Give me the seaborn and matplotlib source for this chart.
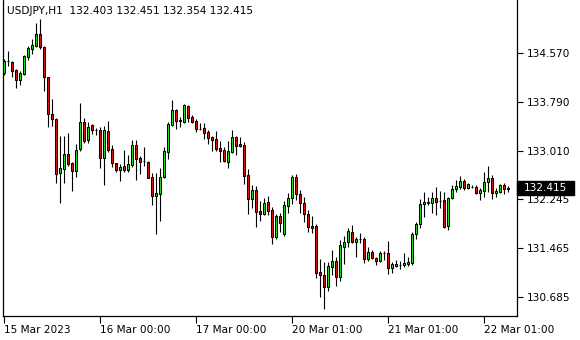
import matplotlib
matplotlib.use("Agg")
import matplotlib.pyplot as plt
import matplotlib.transforms as mtransforms
from matplotlib.patches import Rectangle
import seaborn as sns
import numpy as np
import pandas as pd

symbol = "USDJPY,H1"
x_labels = ["15 Mar 2023", "16 Mar 00:00", "17 Mar 00:00", "20 Mar 01:00", "21 Mar 01:00", "22 Mar 01:00"]
x_label_bars = [0, 24, 48, 72, 96, 120]
y_ticks = [134.570, 133.790, 133.010, 132.245, 131.465, 130.685]
last_price = 132.415

opens = [134.242, 134.433, 134.417, 134.295, 134.135, 134.231, 134.506, 134.634, 134.677, 134.863,
         134.656, 134.188, 133.599, 133.519, 132.650, 132.714, 132.953, 132.809, 132.691, 133.032,
         133.462, 133.180, 133.414, 133.339, 133.339, 132.894, 133.323, 133.032, 132.809, 132.703,
         132.762, 132.703, 132.782, 133.101, 132.894, 132.846, 132.835, 132.586, 132.293, 132.320,
         132.596, 132.994, 133.419, 133.658, 133.487, 133.472, 133.721, 133.542, 133.483, 133.355,
         133.366, 133.303, 133.223, 133.191, 133.048, 133.021, 132.835, 132.994, 133.223, 133.117,
         133.101, 132.618, 132.241, 132.384, 132.050, 131.997, 132.188, 132.066, 131.631, 131.970,
         131.679, 132.134, 132.252, 132.586, 132.316, 132.172, 131.997, 131.811, 131.811, 131.074,
         131.031, 130.845, 131.163, 131.254, 131.004, 131.482, 131.552, 131.720, 131.561, 131.599,
         131.604, 131.281, 131.392, 131.306, 131.259, 131.376, 131.376, 131.138, 131.179, 131.190,
         131.185, 131.206, 131.217, 131.684, 131.843, 132.161, 132.172, 132.182, 132.252, 132.214,
         132.225, 131.816, 132.252, 132.395, 132.437, 132.527, 132.411, 132.427, 132.427, 132.332,
         132.373, 132.507, 132.570, 132.332, 132.357, 132.464, 132.403]
highs = [134.470, 134.597, 134.438, 134.315, 134.283, 134.538, 134.677, 134.793, 135.038, 135.102,
         134.677, 134.190, 133.828, 133.535, 133.244, 133.244, 133.287, 132.835, 133.112, 133.764,
         133.526, 133.472, 133.435, 133.366, 133.382, 133.403, 133.483, 133.101, 132.819, 132.798,
         133.021, 132.941, 133.180, 133.180, 132.930, 133.074, 132.851, 132.660, 132.650, 132.739,
         133.074, 133.472, 133.817, 133.674, 133.551, 133.753, 133.737, 133.578, 133.510, 133.446,
         133.456, 133.339, 133.244, 133.323, 133.164, 133.064, 133.169, 133.339, 133.249, 133.233,
         133.144, 132.718, 132.464, 132.448, 132.209, 132.252, 132.289, 132.109, 131.997, 132.023,
         132.209, 132.341, 132.623, 132.639, 132.384, 132.278, 132.066, 131.970, 131.843, 131.286,
         131.233, 131.233, 131.429, 131.313, 131.588, 131.652, 131.774, 131.827, 131.631, 131.704,
         131.631, 131.482, 131.429, 131.322, 131.413, 131.413, 131.577, 131.233, 131.270, 131.259,
         131.376, 131.313, 131.711, 131.879, 132.236, 132.357, 132.278, 132.348, 132.427, 132.373,
         132.357, 132.268, 132.464, 132.543, 132.607, 132.559, 132.491, 132.464, 132.464, 132.411,
         132.676, 132.766, 132.623, 132.411, 132.480, 132.491, 132.451]
lows = [134.215, 134.363, 134.188, 134.013, 134.056, 134.215, 134.454, 134.545, 134.661, 134.624,
        133.965, 133.382, 133.408, 132.500, 132.182, 132.500, 132.771, 132.373, 132.586, 133.010,
        133.128, 133.137, 133.276, 133.260, 132.739, 132.464, 132.989, 132.746, 132.676, 132.532,
        132.676, 132.676, 132.755, 132.543, 132.639, 132.766, 132.575, 132.145, 131.684, 131.895,
        132.570, 132.878, 133.403, 133.355, 133.382, 133.446, 133.462, 133.446, 133.312, 133.339,
        133.191, 133.117, 133.010, 133.010, 132.835, 132.835, 132.730, 132.968, 132.941, 133.064,
        132.480, 131.997, 132.093, 131.790, 131.895, 131.986, 131.986, 131.520, 131.599, 131.720,
        131.657, 132.023, 132.161, 132.225, 132.013, 131.879, 131.720, 131.695, 130.988, 130.686,
        130.495, 130.781, 131.031, 130.856, 130.940, 131.206, 131.482, 131.536, 131.322, 131.536,
        131.227, 131.259, 131.281, 131.190, 131.243, 131.270, 131.047, 131.068, 131.154, 131.127,
        131.154, 131.174, 131.195, 131.604, 131.774, 131.950, 132.145, 132.013, 131.986, 132.093,
        131.774, 131.747, 132.236, 132.357, 132.395, 132.384, 132.395, 132.416, 132.320, 132.225,
        132.278, 132.357, 132.236, 132.268, 132.341, 132.320, 132.354]
closes = [134.443, 134.437, 134.283, 134.135, 134.242, 134.517, 134.640, 134.688, 134.863, 134.666,
          134.188, 133.589, 133.519, 132.634, 132.730, 132.953, 132.793, 132.691, 133.021, 133.462,
          133.169, 133.392, 133.339, 133.335, 132.889, 133.339, 133.021, 132.809, 132.703, 132.750,
          132.703, 132.798, 133.101, 132.878, 132.835, 132.843, 132.580, 132.293, 132.332, 132.586,
          133.005, 133.435, 133.658, 133.487, 133.490, 133.737, 133.535, 133.462, 133.351, 133.352,
          133.296, 133.217, 133.180, 133.032, 133.010, 132.851, 133.005, 133.223, 133.089, 133.089,
          132.612, 132.241, 132.384, 132.039, 131.997, 132.172, 132.055, 131.631, 131.970, 131.854,
          132.145, 132.252, 132.586, 132.316, 132.172, 132.002, 131.790, 131.784, 131.068, 131.026,
          130.845, 131.174, 131.254, 131.004, 131.509, 131.561, 131.736, 131.561, 131.604, 131.601,
          131.281, 131.392, 131.297, 131.259, 131.376, 131.379, 131.138, 131.201, 131.206, 131.192,
          131.227, 131.233, 131.684, 131.843, 132.161, 132.188, 132.198, 132.252, 132.198, 132.211,
          131.800, 132.252, 132.395, 132.448, 132.527, 132.421, 132.480, 132.429, 132.332, 132.384,
          132.516, 132.570, 132.332, 132.368, 132.464, 132.395, 132.415]

df = pd.DataFrame({"open": opens, "high": highs, "low": lows, "close": closes})
df["bar"] = np.arange(len(df))
df["bottom"] = df[["open", "close"]].min(axis=1)
df["height"] = (df["close"] - df["open"]).abs().clip(lower=0.004)
df["up"] = df["close"] >= df["open"]

sns.set_style("white")
plt.rcParams["font.family"] = ["DejaVu Sans"]

W, H = 580, 340
fig = plt.figure(figsize=(W / 100, H / 100), dpi=100)
left_px, right_px, bottom_px, top_px = 2.7, 517, 315.7, 0.0
ax = fig.add_axes([left_px / W, 1 - bottom_px / H, (right_px - left_px) / W, (bottom_px - top_px) / H])

up_col = "#22e022"
dn_col = "#e01010"

ax.vlines(df["bar"], df["low"], df["high"], color="black", linewidth=0.8, zorder=2)
ax.bar(df["bar"], df["height"], bottom=df["bottom"], width=0.5,
       color=np.where(df["up"], up_col, dn_col), edgecolor="black", linewidth=0.75, zorder=3)

ax.set_xlim(-0.25, 128.3)
ax.set_ylim(130.383, 135.409)

for name, s in ax.spines.items():
    s.set_color("black")
    s.set_linewidth(0.9)
ax.spines["top"].set_visible(False)

ax.yaxis.tick_right()
ax.set_yticks(y_ticks)
ax.set_yticklabels([f"{v:.3f}" for v in y_ticks])
ax.set_xticks(x_label_bars)
ax.set_xticklabels(x_labels, ha="left")
ax.tick_params(axis="y", which="major", right=True, left=False, direction="out", length=4,
               width=0.8, pad=3, labelsize=7.6, colors="black")
ax.tick_params(axis="x", which="major", bottom=True, direction="out", length=5,
               width=0.8, pad=2, labelsize=7.6, colors="black")
for lbl in ax.get_xticklabels():
    lbl.set_horizontalalignment("left")

header = f"{symbol}  {opens[-1]:.3f} {highs[-1]:.3f} {lows[-1]:.3f} {closes[-1]:.3f}"
ax.text(4.5 / (right_px - left_px), 1 - 11 / (bottom_px - top_px), header,
        transform=ax.transAxes, fontsize=7.6, color="black", va="center", ha="left")

# current price tag on the price scale
trans = mtransforms.blended_transform_factory(ax.transAxes, ax.transData)
tag_w = 57 / (right_px - left_px)
tag_h = 13.5 * (135.409 - 130.383) / (bottom_px - top_px)
ax.add_patch(Rectangle((1.0, last_price - tag_h / 2), tag_w, tag_h, transform=trans,
                       facecolor="black", edgecolor="black", clip_on=False, zorder=5))
ax.text(1.0 + tag_w / 2, last_price, f"{last_price:.3f}", transform=trans, ha="center",
        va="center", fontsize=7.6, color="white", zorder=6, clip_on=False)

fig.savefig("out.png", dpi=100, facecolor="white")
